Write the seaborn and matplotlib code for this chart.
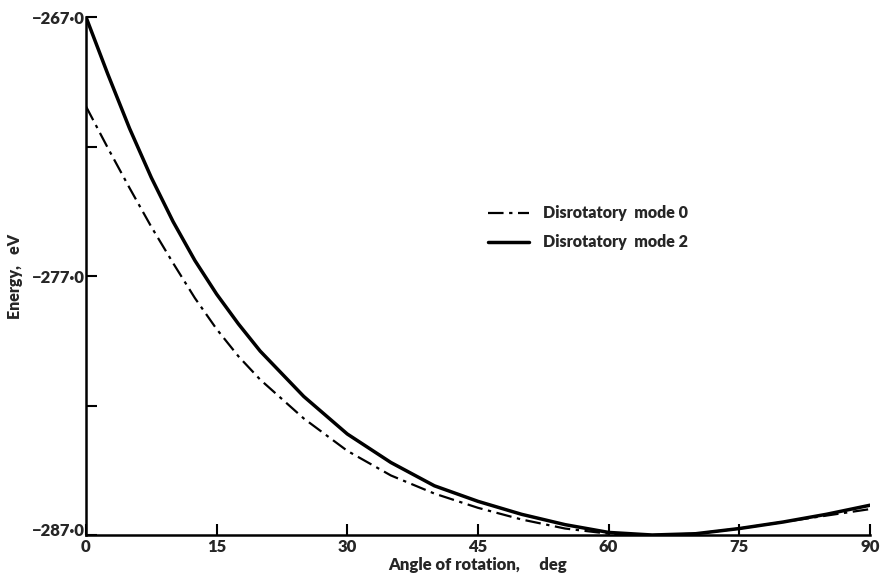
import numpy as np
import pandas as pd
import matplotlib
matplotlib.use("Agg")
import matplotlib.pyplot as plt
import matplotlib.transforms as mtransforms
import seaborn as sns

# ---- data ----
angle = [0, 2.5, 5, 7.5, 10, 12.5, 15, 17.5, 20, 25, 30, 35, 40, 45, 50, 55, 60, 65, 70, 75, 80, 85, 90]
mode0 = [-270.45, -272.05, -273.6, -275.1, -276.5, -277.85, -279.05, -280.1, -281.0, -282.5,
         -283.75, -284.7, -285.4, -285.95, -286.4, -286.75, -286.95, -287.0, -286.95, -286.75,
         -286.5, -286.25, -286.0]
mode2 = [-267.0, -269.2, -271.3, -273.2, -274.9, -276.4, -277.7, -278.85, -279.9, -281.65,
         -283.1, -284.2, -285.1, -285.7, -286.2, -286.6, -286.9, -287.0, -286.95, -286.75,
         -286.5, -286.2, -285.85]
series_names = ["Disrotatory  mode 0", "Disrotatory  mode 2"]
xticks = [0, 15, 30, 45, 60, 75, 90]
yticks = [-287.0, -277.0, -267.0]
yticklabels = ["\u2212287\u00b70", "\u2212277\u00b70", "\u2212267\u00b70"]
yminor = [-282.0, -272.0]

df = pd.DataFrame({
    "angle": angle * 2,
    "energy": mode0 + mode2,
    "series": [series_names[0]] * len(angle) + [series_names[1]] * len(angle),
})

sns.set_style("ticks")
plt.rcParams["font.family"] = ["Lato", "DejaVu Sans"]
W = "heavy"
plt.rcParams["font.weight"] = W

fig = plt.figure(figsize=(8.8, 5.73), dpi=100)
ax = fig.add_axes([0.0977, 0.0663, 0.8909, 0.904])

sns.lineplot(data=df[df.series == series_names[0]], x="angle", y="energy", ax=ax,
             color="black", lw=1.6, label=series_names[0], dashes=False)
sns.lineplot(data=df[df.series == series_names[1]], x="angle", y="energy", ax=ax,
             color="black", lw=2.5, label=series_names[1], dashes=False)
ax.lines[0].set_dashes((7, 2.5, 1.5, 2.5))

ax.set_xlim(0, 90)
ax.set_ylim(-287.0, -267.0)
ax.set_xticks(xticks)
ax.set_xticklabels([str(t) for t in xticks], fontsize=12, fontweight=W)
ax.set_yticks(yticks)
ax.set_yticklabels(yticklabels, fontsize=12, fontweight=W)
ax.set_yticks(yminor, minor=True)
ax.tick_params(axis="both", which="both", direction="in", color="black", width=1.5)
ax.tick_params(axis="y", which="major", length=8, pad=1)
ax.tick_params(axis="y", which="minor", length=8)
ax.tick_params(axis="x", which="major", length=8, pad=3)

# nudge the bottom y label up slightly, as in the reference
lab = ax.get_yticklabels()[0]
lab.set_transform(lab.get_transform() +
                  mtransforms.ScaledTranslation(0, 4 / 72, fig.dpi_scale_trans))

for s in ["top", "right"]:
    ax.spines[s].set_visible(False)
for s in ["left", "bottom"]:
    ax.spines[s].set_linewidth(1.8)
    ax.spines[s].set_color("black")

ax.set_xlabel("Angle of rotation,     deg", fontsize=12, fontweight=W, labelpad=1)
ax.set_ylabel("Energy,   eV", fontsize=11.5, fontweight=W, labelpad=6)

leg = ax.legend(loc="upper left", bbox_to_anchor=(0.494, 0.664), frameon=False,
                fontsize=11.5, handlelength=2.6, handletextpad=0.85, labelspacing=0.8)
for t in leg.get_texts():
    t.set_fontweight(W)

fig.savefig("out.png", dpi=100)
